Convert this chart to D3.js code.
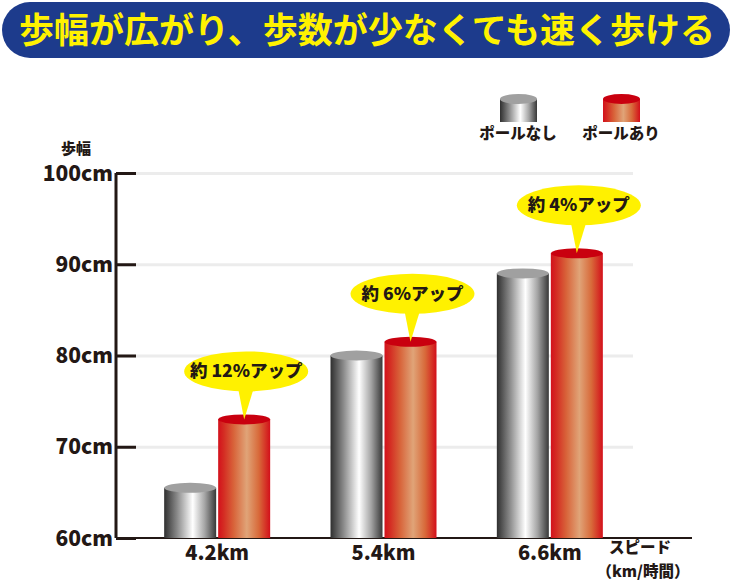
<!DOCTYPE html>
<html>
<head>
<meta charset="utf-8">
<script src="https://cdn.jsdelivr.net/npm/d3@7"></script>
<style>
  html, body { margin: 0; padding: 0; background: #fff; }
  svg { display: block; font-family: "Noto Sans CJK JP", "Noto Sans", sans-serif; }
</style>
</head>
<body>
<svg id="chart" width="735" height="581"></svg>
<script>
// data
const speeds = ['4.2km', '5.4km', '6.6km'];
const seriesNames = ['ポールなし', 'ポールあり'];
const withoutPole = [65.5, 80, 89];
const withPole = [73, 81.5, 91.2];
const increaseLabels = ['約 12%アップ', '約 6%アップ', '約 4%アップ'];
const yTicks = [60, 70, 80, 90, 100];

const svg = d3.select('#chart');
const ink = '#231815';

// gradients for the cylinders
const defs = svg.append('defs');
function gradient(id, stops) {
    const g = defs.append('linearGradient').attr('id', id)
        .attr('x1', '0%').attr('x2', '100%').attr('y1', '0%').attr('y2', '0%');
    stops.forEach(s => g.append('stop').attr('offset', s[0]).attr('stop-color', s[1]));
}
gradient('grayBody', [['0%', '#2f2f2f'], ['25%', '#8a8a8a'], ['55%', '#ffffff'], ['78%', '#a5a5a5'], ['100%', '#383838']]);
gradient('redBody', [['0%', '#d3111c'], ['10%', '#d42a22'], ['30%', '#d8643a'], ['55%', '#e0a478'], ['78%', '#d86a3a'], ['100%', '#d30f1a']]);
const topFill = ['#a0a0a0', '#c9000f'];
const bodyFill = ['url(#grayBody)', 'url(#redBody)'];

// title banner
svg.append('rect')
    .attr('x', 2).attr('y', 2).attr('width', 728).attr('height', 56)
    .attr('rx', 28).attr('fill', '#1d3b8c');
svg.append('text')
    .attr('x', 367).attr('y', 43)
    .attr('text-anchor', 'middle')
    .attr('font-size', 35).attr('font-weight', 700)
    .attr('fill', '#fff200')
    .text('歩幅が広がり、歩数が少なくても速く歩ける');

// scales
const y = d3.scaleLinear().domain([60, 100]).range([538, 173]);
const x = d3.scaleBand().domain(speeds).range([134, 633]).paddingInner(0).paddingOuter(0);
const barW = 52, gap = 2, ry = 5;

// grid lines
svg.append('g')
    .attr('transform', 'translate(116,0)')
    .call(d3.axisRight(y).tickValues(yTicks.slice(1)).tickSize(517).tickFormat(''))
    .call(g => g.select('.domain').remove())
    .call(g => g.selectAll('line').attr('stroke', '#ececec').attr('stroke-width', 3));

// x baseline
svg.append('line')
    .attr('x1', 116).attr('x2', 692).attr('y1', y(60)).attr('y2', y(60))
    .attr('stroke', ink).attr('stroke-width', 2);

// y axis
svg.append('g')
    .attr('transform', 'translate(116,0)')
    .call(d3.axisLeft(y).tickValues(yTicks).tickSize(-20).tickPadding(3).tickFormat(d => d + 'cm'))
    .call(g => g.select('.domain').attr('d', `M0,${y(100)}V${y(60)}`).attr('stroke', ink).attr('stroke-width', 3))
    .call(g => g.selectAll('line').attr('stroke', ink).attr('stroke-width', 3))
    .call(g => g.selectAll('text').attr('fill', ink).attr('font-size', 21).attr('font-weight', 900)
        .attr('font-family', '"Noto Sans CJK JP", sans-serif').attr('dy', '0.34em'));

svg.append('text')
    .attr('x', 76).attr('y', 154).attr('text-anchor', 'middle')
    .attr('font-size', 15).attr('font-weight', 900).attr('fill', ink)
    .text('歩幅');

// cylinders
function cylinder(g, x0, w, top, bottom, i) {
    g.append('rect').attr('x', x0).attr('y', top).attr('width', w).attr('height', bottom - top)
        .attr('fill', bodyFill[i]);
    g.append('ellipse').attr('cx', x0 + w / 2).attr('cy', top).attr('rx', w / 2).attr('ry', ry)
        .attr('fill', topFill[i]);
}

const series = [withoutPole, withPole];
const groups = svg.append('g').selectAll('g').data(speeds).join('g');
groups.each(function (s, j) {
    const g = d3.select(this);
    const cx = x(s) + x.bandwidth() / 2;
    series.forEach((vals, i) => {
        const x0 = i === 0 ? cx - gap / 2 - barW : cx + gap / 2;
        cylinder(g, x0, barW, y(vals[j]), y(60), i);
    });
    g.append('text')
        .attr('x', cx).attr('y', 560).attr('text-anchor', 'middle')
        .attr('font-size', 20).attr('font-weight', 900).attr('fill', ink)
        .text(s);
});

// callouts
groups.each(function (s, j) {
    const g = d3.select(this);
    const cx = x(s) + x.bandwidth() / 2 + gap / 2 + barW / 2;
    const tipY = y(withPole[j]);
    const ey = tipY - 48;
    const ecx = cx + 2;
    g.append('path')
        .attr('d', `M${ecx - 9},${ey + 12}L${cx},${tipY}L${ecx + 9},${ey + 12}Z`)
        .attr('fill', '#fff100');
    g.append('ellipse')
        .attr('cx', ecx).attr('cy', ey).attr('rx', 62).attr('ry', 20)
        .attr('fill', '#fff100');
    g.append('text')
        .attr('x', ecx).attr('y', ey + 6).attr('text-anchor', 'middle')
        .attr('font-size', 17.5).attr('font-weight', 900).attr('fill', ink)
        .text(increaseLabels[j]);
});

// x axis title
svg.append('text')
    .attr('x', 640).attr('y', 553).attr('text-anchor', 'middle')
    .attr('font-size', 15.5).attr('font-weight', 900).attr('fill', ink)
    .text('スピード');
svg.append('text')
    .attr('x', 643).attr('y', 577).attr('text-anchor', 'middle')
    .attr('font-size', 15.5).attr('font-weight', 900).attr('fill', ink)
    .text('（km/時間）');

// legend
const legend = svg.append('g').selectAll('g').data(seriesNames).join('g')
    .attr('transform', (d, i) => `translate(${500 + i * 103},0)`);
legend.each(function (d, i) {
    const g = d3.select(this);
    cylinder(g, 0, 37, 99, 122, i);
    g.append('text')
        .attr('x', 18).attr('y', 139).attr('text-anchor', 'middle')
        .attr('font-size', 15.5).attr('font-weight', 900).attr('fill', ink)
        .text(d);
});
</script>
</body>
</html>
